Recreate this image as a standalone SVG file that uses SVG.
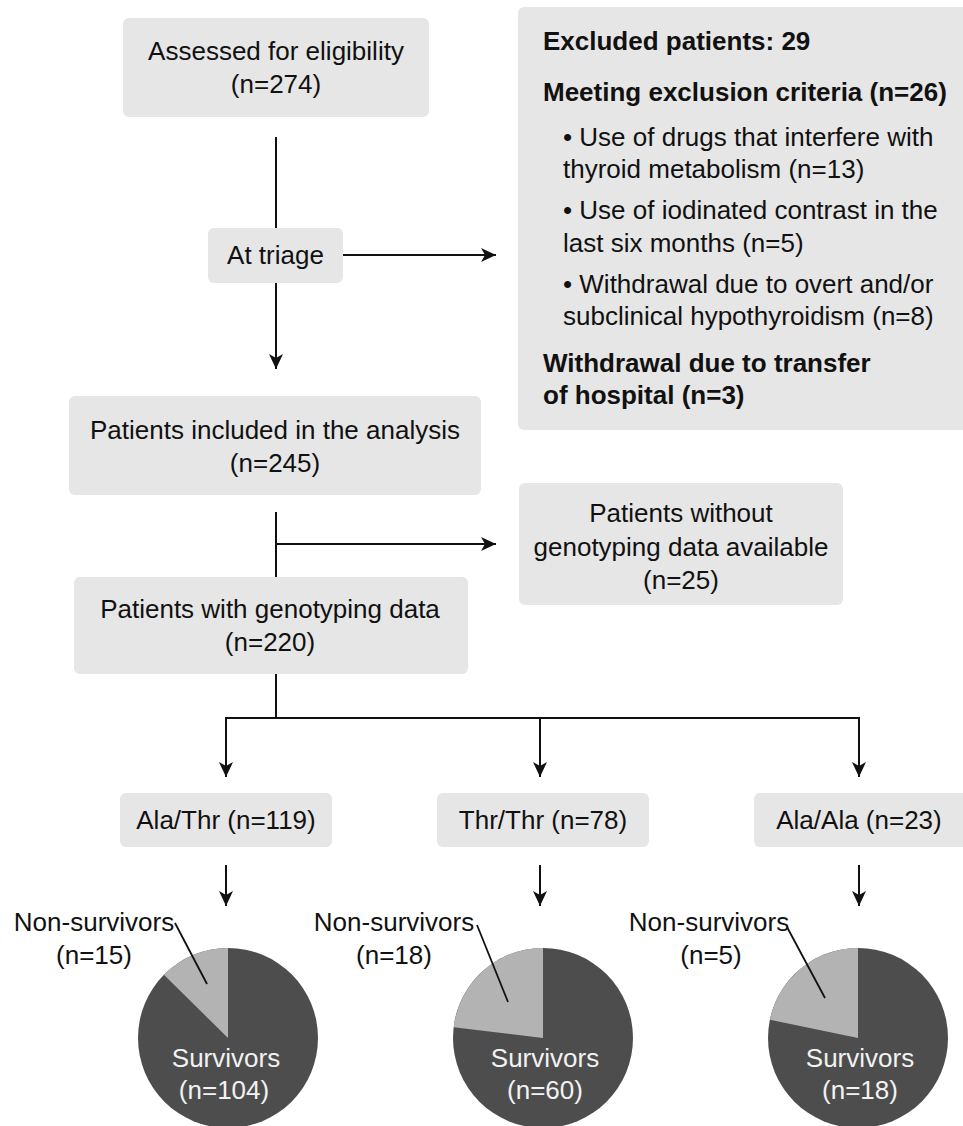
<svg xmlns="http://www.w3.org/2000/svg" width="963" height="1126" viewBox="0 0 963 1126">
<style>
text{font-family:"Liberation Sans",Arial,Helvetica,sans-serif;font-size:26px;fill:#111}
.c{text-anchor:middle}
.b{font-weight:bold}
.box{fill:#e6e6e6}
.ln{stroke:#111;stroke-width:2;fill:none}
.ld{stroke:#111;stroke-width:1.8;fill:none}
.dark{fill:#4d4d4d}
.light{fill:#b3b3b3}
.w{fill:#f2f2f2}
</style>
<defs>
<marker id="ah" markerUnits="userSpaceOnUse" markerWidth="16" markerHeight="16" viewBox="0 0 16 16" refX="15" refY="8" orient="auto">
<path d="M0,1 L15,8 L0,15 L4,8 Z" fill="#111"/>
</marker>
</defs>

<g id="connectors">
<path class="ln" d="M276,137 V228"/>
<path class="ln" d="M343,255 H496" marker-end="url(#ah)"/>
<path class="ln" d="M276,283 V369" marker-end="url(#ah)"/>
<path class="ln" d="M276,512 V577"/>
<path class="ln" d="M276,544 H496" marker-end="url(#ah)"/>
<path class="ln" d="M276,674 V718"/>
<path class="ln" d="M226,718 H859"/>
<path class="ln" d="M226,717 V777" marker-end="url(#ah)"/>
<path class="ln" d="M540,717 V777" marker-end="url(#ah)"/>
<path class="ln" d="M859,717 V777" marker-end="url(#ah)"/>
<path class="ln" d="M226,865 V906" marker-end="url(#ah)"/>
<path class="ln" d="M540,865 V906" marker-end="url(#ah)"/>
<path class="ln" d="M859,865 V906" marker-end="url(#ah)"/>
</g>

<g id="assessed">
<rect class="box" x="123" y="18" width="306" height="99" rx="6"/>
<text class="c" x="276" y="60">Assessed for eligibility</text>
<text class="c" x="276" y="93">(n=274)</text>
</g>

<g id="triage">
<rect class="box" x="208" y="228" width="135" height="55" rx="6"/>
<text class="c" x="275.5" y="264">At triage</text>
</g>

<g id="excluded">
<rect class="box" x="518" y="7" width="460" height="423" rx="6"/>
<text class="b" x="543" y="50">Excluded patients: 29</text>
<text class="b" x="543" y="101">Meeting exclusion criteria (n=26)</text>
<text x="563" y="146">• Use of drugs that interfere with</text>
<text x="563" y="178">thyroid metabolism (n=13)</text>
<text x="563" y="219">• Use of iodinated contrast in the</text>
<text x="563" y="252">last six months (n=5)</text>
<text x="563" y="293">• Withdrawal due to overt and/or</text>
<text x="563" y="325">subclinical hypothyroidism (n=8)</text>
<text class="b" x="543" y="372">Withdrawal due to transfer</text>
<text class="b" x="543" y="404">of hospital (n=3)</text>
</g>

<g id="included">
<rect class="box" x="69" y="396" width="412" height="99" rx="6"/>
<text class="c" x="275" y="439">Patients included in the analysis</text>
<text class="c" x="275" y="472">(n=245)</text>
</g>

<g id="without-genotyping">
<rect class="box" x="519" y="483" width="324" height="122" rx="6"/>
<text class="c" x="681" y="522">Patients without</text>
<text class="c" x="681" y="556">genotyping data available</text>
<text class="c" x="681" y="589">(n=25)</text>
</g>

<g id="with-genotyping">
<rect class="box" x="74" y="577" width="394" height="97" rx="6"/>
<text class="c" x="270" y="618">Patients with genotyping data</text>
<text class="c" x="270" y="651">(n=220)</text>
</g>

<g id="ala-thr">
<rect class="box" x="120" y="793" width="212" height="54" rx="6"/>
<text class="c" x="226" y="829">Ala/Thr (n=119)</text>
</g>

<g id="thr-thr">
<rect class="box" x="437" y="793" width="212" height="54" rx="6"/>
<text class="c" x="543" y="829">Thr/Thr (n=78)</text>
</g>

<g id="ala-ala">
<rect class="box" x="754" y="793" width="215" height="54" rx="6"/>
<text class="c" x="859" y="829">Ala/Ala (n=23)</text>
</g>

<g id="pie-ala-thr">
<circle class="dark" cx="228" cy="1038" r="90"/>
<path class="light" d="M228,1038 L228,948 A90,90 0 0 0 163.9,974.8 Z"/>
<path class="ld" d="M175,923 L207,984"/>
<text class="c" x="94" y="931">Non-survivors</text>
<text class="c" x="94" y="964">(n=15)</text>
<text class="c w" x="226" y="1067">Survivors</text>
<text class="c w" x="224" y="1099">(n=104)</text>
</g>

<g id="pie-thr-thr">
<circle class="dark" cx="543" cy="1038" r="90"/>
<path class="light" d="M543,1038 L543,948 A90,90 0 0 0 453.7,1027.2 Z"/>
<path class="ld" d="M477,925 L508,1002"/>
<text class="c" x="394" y="931">Non-survivors</text>
<text class="c" x="394" y="964">(n=18)</text>
<text class="c w" x="545" y="1067">Survivors</text>
<text class="c w" x="545" y="1099">(n=60)</text>
</g>

<g id="pie-ala-ala">
<circle class="dark" cx="858" cy="1038" r="90"/>
<path class="light" d="M858,1038 L858,948 A90,90 0 0 0 769.9,1019.7 Z"/>
<path class="ld" d="M787,927 L825,998"/>
<text class="c" x="709" y="931">Non-survivors</text>
<text class="c" x="711" y="964">(n=5)</text>
<text class="c w" x="860" y="1067">Survivors</text>
<text class="c w" x="860" y="1099">(n=18)</text>
</g>
</svg>
